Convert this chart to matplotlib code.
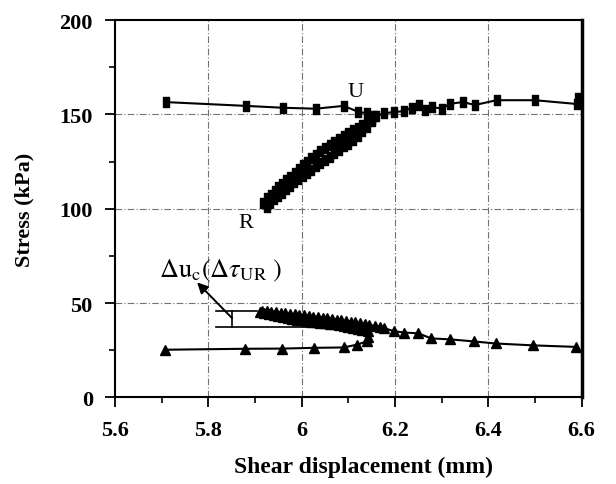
import numpy as np
import matplotlib
matplotlib.use("Agg")
import matplotlib.pyplot as plt
from matplotlib.ticker import MultipleLocator, FuncFormatter
from matplotlib.path import Path

plt.rcParams['font.family'] = ['Liberation Serif', 'DejaVu Serif']
plt.rcParams['mathtext.fontset'] = 'stix'

# --- stress series (square markers): creep, unload U->R, reload, creep ---
stress_x = [5.709, 5.88, 5.96, 6.03, 6.09, 6.12, 6.14, 6.155,
            # unloading branch U -> R
            6.150, 6.140, 6.130, 6.120, 6.110, 6.100, 6.090, 6.080, 6.070,
            6.060, 6.050, 6.040, 6.030, 6.021, 6.012, 6.003, 5.994, 5.985,
            5.976, 5.967, 5.958, 5.950, 5.942, 5.934, 5.926, 5.918,
            # reloading branch R -> U
            5.925, 5.933, 5.941, 5.949, 5.957, 5.966, 5.975, 5.984, 5.993,
            6.002, 6.011, 6.020, 6.030, 6.040, 6.050, 6.060, 6.070, 6.080,
            6.090, 6.100, 6.110, 6.120, 6.130, 6.140, 6.150, 6.160,
            # creep after reload
            6.176, 6.197, 6.219, 6.236, 6.251, 6.265, 6.279, 6.30, 6.318,
            6.345, 6.372, 6.418, 6.50, 6.59, 6.592]
stress_y = [156.5, 154.5, 153.5, 153.0, 154.5, 151.5, 150.5, 149.0,
            147.5, 146.0, 144.5, 143.0, 141.5, 140.0, 138.5, 137.0, 135.5,
            134.0, 132.0, 130.5, 128.5, 127.0, 125.0, 123.0, 121.0, 119.0,
            117.0, 115.0, 113.0, 111.5, 109.5, 107.5, 105.5, 103.0,
            101.0, 103.0, 105.0, 107.0, 108.5, 110.5, 112.0, 114.0, 115.5,
            117.5, 119.0, 120.5, 122.5, 124.0, 126.0, 127.5, 129.5, 131.0,
            133.0, 134.5, 136.5, 138.5, 141.0, 143.5, 146.5, 149.0,
            150.6, 151.2, 151.7, 153.5, 155.0, 152.5, 154.0, 153.0, 155.6,
            156.5, 155.0, 157.5, 157.5, 155.5, 158.5]

# --- second series (triangle markers) ---
lower_x = [5.708, 5.878, 5.957, 6.026, 6.09, 6.119, 6.14, 6.142, 6.142,
           6.130, 6.120, 6.110, 6.100, 6.090, 6.080, 6.070, 6.060, 6.050,
           6.040, 6.030, 6.020, 6.010, 6.000, 5.990, 5.980, 5.970, 5.960,
           5.950, 5.940, 5.930, 5.920, 5.910,
           5.915, 5.925, 5.935, 5.945, 5.955, 5.965, 5.975, 5.985, 5.995,
           6.005, 6.015, 6.025, 6.035, 6.045, 6.055, 6.065, 6.075, 6.085,
           6.095, 6.105, 6.115, 6.125, 6.135, 6.145, 6.157, 6.167,
           6.176, 6.197, 6.219, 6.25, 6.278, 6.318, 6.369, 6.416, 6.497, 6.588]
lower_y = [25.3, 25.8, 25.9, 26.3, 26.5, 28.0, 29.7, 32.0, 35.0,
           35.8, 36.5, 37.0, 37.5, 37.9, 38.3, 38.7, 39.0, 39.3,
           39.6, 39.9, 40.2, 40.5, 40.8, 41.2, 41.7, 42.2, 42.8,
           43.3, 43.8, 44.3, 44.8, 45.3,
           46.0, 45.7, 45.4, 45.2, 44.9, 44.6, 44.4, 44.1, 43.8,
           43.5, 43.2, 42.9, 42.6, 42.3, 42.0, 41.7, 41.3, 41.0,
           40.6, 40.2, 39.8, 39.4, 38.9, 38.4, 37.8, 37.4,
           36.8, 35.2, 34.4, 34.0, 31.3, 30.8, 29.7, 28.6, 27.6, 26.8]

x_ticks = [5.6, 5.8, 6.0, 6.2, 6.4, 6.6]
y_ticks = [0, 50, 100, 150, 200]

# tall rectangle marker like the scanned squares
rect = Path([(-0.65, -1), (0.65, -1), (0.65, 1), (-0.65, 1), (-0.65, -1)],
            [Path.MOVETO, Path.LINETO, Path.LINETO, Path.LINETO, Path.CLOSEPOLY])

fig = plt.figure(figsize=(6.16, 4.85), dpi=100)
ax = fig.add_axes([0.1867, 0.1784, 0.7573, 0.7783])

ax.plot(stress_x, stress_y, '-', color='black', lw=1.5,
        marker=rect, ms=7.5, mfc='black', mec='black', zorder=3)
ax.plot(lower_x, lower_y, '-', color='black', lw=1.5,
        marker='^', ms=6.5, mfc='black', mec='black', zorder=3)

# bracket marking the stress jump
ax.plot([5.816, 5.905], [45.6, 45.6], color='black', lw=1.2)
ax.plot([5.816, 6.06], [37.2, 37.2], color='black', lw=1.2)
ax.plot([5.851, 5.851], [37.2, 45.6], color='black', lw=1.2)
ax.annotate('', xy=(5.776, 61.0), xytext=(5.851, 42.0),
            arrowprops=dict(arrowstyle='-|>', color='black', lw=1.4,
                            mutation_scale=16, shrinkA=0, shrinkB=0))
ax.text(5.695, 67.5, r'$\Delta\mathrm{u}_{\mathrm{c}}(\Delta\tau_{\mathrm{UR}}\ )$',
        fontsize=19, ha='left', va='center')
ax.text(6.115, 162, 'U', fontsize=16, ha='center', va='center')
ax.text(5.881, 92.5, 'R', fontsize=16, ha='center', va='center')

ax.set_xlim(5.6, 6.6)
ax.set_ylim(0, 200)
ax.set_xticks(x_ticks)
ax.set_yticks(y_ticks)
ax.xaxis.set_minor_locator(MultipleLocator(0.1))
ax.yaxis.set_minor_locator(MultipleLocator(25))
ax.xaxis.set_major_formatter(FuncFormatter(lambda v, p: '%g' % round(v, 2)))

for v in [5.8, 6.0, 6.2, 6.4]:
    ax.axvline(v, color='0.45', lw=0.8, ls=(0, (6, 2, 1, 2)), zorder=1)
for v in [50, 100, 150]:
    ax.axhline(v, color='0.45', lw=0.8, ls=(0, (6, 2, 1, 2)), zorder=1)

ax.tick_params(which='major', direction='out', length=7, width=1.3,
               labelsize=16, pad=9)
ax.tick_params(which='minor', direction='out', length=4, width=1.2)
ax.tick_params(top=False, right=False, which='both')
for lab in ax.get_xticklabels() + ax.get_yticklabels():
    lab.set_fontweight('bold')

for s in ['left', 'bottom', 'top']:
    ax.spines[s].set_linewidth(1.5)
ax.spines['right'].set_linewidth(2.5)

ax.set_xlabel('Shear displacement (mm)', fontsize=17, fontweight='bold')
ax.set_ylabel('Stress (kPa)', fontsize=16, fontweight='bold', labelpad=18)
ax.xaxis.set_label_coords(0.532, -0.155)

fig.savefig('out.png', dpi=100)
